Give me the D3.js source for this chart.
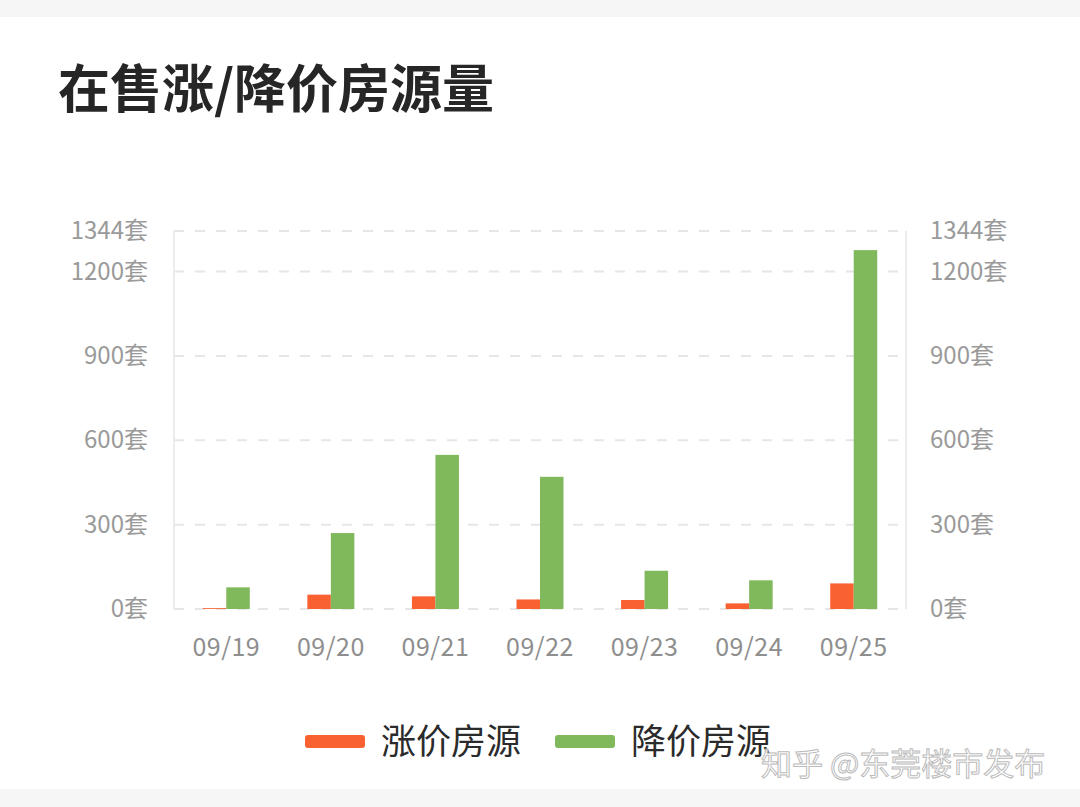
<!DOCTYPE html>
<html>
<head>
<meta charset="utf-8">
<script src="https://cdn.jsdelivr.net/npm/d3@7/dist/d3.min.js"></script>
<style>
html,body{margin:0;padding:0;background:#fff;}
svg{display:block;}
</style>
</head>
<body>
<svg id="chart" width="1080" height="807"></svg>
<script>
const categories = ["09/19","09/20","09/21","09/22","09/23","09/24","09/25"];
const riseValues = [3, 51, 45, 34, 32, 20, 91];
const fallValues = [77, 270, 548, 470, 136, 102, 1276];
const tickValues = [0, 300, 600, 900, 1200, 1344];
const seriesNames = ["涨价房源", "降价房源"];
const seriesColors = ["#f96131", "#80b95b"];
const titleText = "在售涨/降价房源量";
const watermark = "知乎 @东莞楼市发布";

const svg = d3.select("#chart");
const font = "'Noto Sans CJK SC','Noto Sans',sans-serif";

// background bands
svg.append("rect").attr("x",0).attr("y",0).attr("width",1080).attr("height",17).attr("fill","#f6f6f6");
svg.append("rect").attr("x",0).attr("y",789).attr("width",1080).attr("height",18).attr("fill","#f6f6f6");

// title
svg.append("text").attr("x",58).attr("y",108)
  .attr("font-family",font).attr("font-weight",700).attr("font-size",52)
  .attr("fill","#262626").text(titleText);

const plot = {left:174, right:906, top:231, bottom:609};
const x = d3.scaleBand().domain(categories).range([plot.left, plot.right]);
const y = d3.scaleLinear().domain([0,1344]).range([plot.bottom, plot.top]);
const barW = 23.5;

// grid lines (dashed)
svg.append("g").selectAll("line").data(tickValues).join("line")
  .attr("x1",plot.left).attr("x2",plot.right)
  .attr("y1",d=>y(d)).attr("y2",d=>y(d))
  .attr("stroke","#e6e6e6").attr("stroke-width",2)
  .attr("stroke-dasharray","10,11");

// vertical borders
[plot.left, plot.right].forEach(px=>{
  svg.append("line").attr("x1",px).attr("x2",px).attr("y1",y(1344)).attr("y2",y(0))
    .attr("stroke","#ececec").attr("stroke-width",2);
});

// left axis labels
const yAxisL = d3.axisLeft(y).tickValues(tickValues).tickFormat(d=>d+"套").tickSize(0).tickPadding(0);
const gL = svg.append("g").attr("transform",`translate(148,0)`).call(yAxisL);
gL.select(".domain").remove();
gL.selectAll("text").attr("font-family",font).attr("font-size",24).attr("fill","#9a9a9a");

// right axis labels
const yAxisR = d3.axisRight(y).tickValues(tickValues).tickFormat(d=>d+"套").tickSize(0).tickPadding(0);
const gR = svg.append("g").attr("transform",`translate(930,0)`).call(yAxisR);
gR.select(".domain").remove();
gR.selectAll("text").attr("font-family",font).attr("font-size",24).attr("fill","#9a9a9a");

// x axis labels
const xAxis = d3.axisBottom(x).tickSize(0).tickPadding(0);
const gX = svg.append("g").attr("transform",`translate(0,638)`).call(xAxis);
gX.select(".domain").remove();
gX.selectAll("text").attr("font-family",font).attr("font-size",25).attr("fill","#8e8e8e")
  .attr("letter-spacing","0.5px");

// bars
const series = [riseValues, fallValues];
series.forEach((vals,si)=>{
  svg.append("g").selectAll("rect").data(categories).join("rect")
    .attr("x",d=>x(d)+x.bandwidth()/2 + (si===0 ? -barW : 0))
    .attr("y",(d,i)=>y(vals[i]))
    .attr("width",barW)
    .attr("height",(d,i)=>y(0)-y(vals[i]))
    .attr("fill",seriesColors[si]);
});

// legend
const legendItems = [{x:305, tx:381},{x:555, tx:631}];
legendItems.forEach((it,i)=>{
  svg.append("rect").attr("x",it.x).attr("y",735).attr("width",60).attr("height",13).attr("rx",3)
    .attr("fill",seriesColors[i]);
  svg.append("text").attr("x",it.tx).attr("y",754)
    .attr("font-family",font).attr("font-size",35).attr("fill","#2b2b2b").text(seriesNames[i]);
});

// watermark
svg.append("text").attr("x",761).attr("y",775)
  .attr("font-family",font).attr("font-size",31).attr("fill","#ffffff")
  .attr("stroke","#b8b8b8").attr("stroke-width",1).attr("opacity",0.95)
  .text(watermark);
</script>
</body>
</html>
